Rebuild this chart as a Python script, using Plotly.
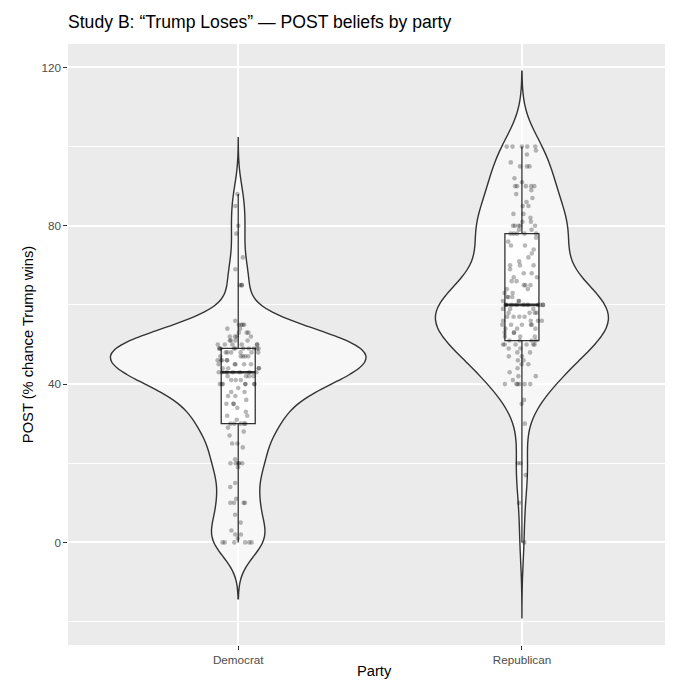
import numpy as np
import plotly.graph_objects as go

# ---------------- data ----------------
categories = ["Democrat", "Republican"]

dem_post = [
    0, 0, 0, 0, 0, 0, 1, 2, 2, 3, 5, 7, 10, 10, 10, 10, 11, 14, 15, 19,
    20, 20, 20, 20, 20, 21, 24, 25, 25, 27, 28, 29, 30, 30, 30,
    30, 30, 31, 32, 32, 33, 34, 35, 35, 35, 36, 37, 37, 38, 38, 39,
    40, 40, 40, 40, 40, 40, 40, 41, 41, 41, 42, 42, 42, 42, 43, 43, 43, 43, 43,
    43, 43, 44, 44, 44, 44, 45, 45, 45, 45, 45, 46, 46, 46, 46, 46,
    47, 47, 47, 47, 47, 48, 48, 48, 48, 48, 48, 49, 49, 49, 49, 49, 49, 49, 49,
    49, 49, 50, 50, 50, 50, 50, 50, 51, 51, 51, 51, 52, 52, 52, 52,
    53, 53, 53, 54, 54, 55, 55, 55, 55, 56, 65, 65, 65, 69, 72, 78, 80, 85, 88,
]

rep_post = [
    0, 10, 17, 20, 20, 30, 35, 36, 40, 40, 40, 40, 40, 40, 41, 42, 42, 43, 44,
    45, 45, 46, 46, 47, 47, 48, 48, 49, 49, 50, 50, 50, 50, 50, 50, 51, 51, 51,
    51, 52, 52, 52, 53, 53, 53, 54, 54, 54, 55, 55, 55, 55, 55, 56, 56, 56, 56,
    57, 57, 57, 57, 58, 58, 58, 58, 59, 59, 59, 60, 60, 60, 60, 60, 60, 60,
    60, 60, 60, 61, 61, 61, 62, 62, 62, 63, 63, 64, 64, 65, 65, 65, 66, 66,
    67, 67, 68, 68, 69, 70, 70, 70, 71, 72, 73, 74, 75, 75, 76, 77, 78, 78, 78,
    78, 78, 79, 79, 80, 80, 80, 80, 80, 81, 81, 82, 83, 83, 85, 85, 86, 87, 88,
    89, 90, 90, 90, 90, 90, 91, 92, 95, 95, 95, 96, 98, 99, 100, 100, 100, 100, 100,
]

y_ticks = [0, 40, 80, 120]
y_minor = [-20, 20, 60, 100]

title_text = "Study B: \u201cTrump Loses\u201d \u2014 POST beliefs by party"
x_title = "Party"
y_title = "POST (% chance Trump wins)"

series = {"Democrat": dem_post, "Republican": rep_post}

# ---------------- helpers (ggplot-like violin statistics) ----------------
def bw_nrd0(v):
    v = np.asarray(v, float)
    sd = v.std(ddof=1)
    q75, q25 = np.percentile(v, [75, 25])
    lo = min(sd, (q75 - q25) / 1.34)
    return 0.9 * lo * len(v) ** -0.2


def kde_peak(v, bw, span):
    v = np.asarray(v, float)
    grid = np.linspace(span[0], span[1], 1024)
    d = np.exp(-0.5 * ((grid[:, None] - v[None, :]) / bw) ** 2).sum(1)
    return (d / (len(v) * bw * np.sqrt(2 * np.pi))).max()


stats = {}
for cat in categories:
    v = series[cat]
    bw = bw_nrd0(v)
    span = [min(v) - 3 * bw, max(v) + 3 * bw]
    stats[cat] = dict(bw=bw, span=span, peak=kde_peak(v, bw, span))

max_peak = max(s["peak"] for s in stats.values())
lo = min(s["span"][0] for s in stats.values())
hi = max(s["span"][1] for s in stats.values())
pad = 0.05 * (hi - lo)
y_range = [lo - pad, hi + pad]

FONT = "Liberation Sans, Arial, Helvetica, sans-serif"
LINE = "#333333"

fig = go.Figure()

# violins (scale = "area": width proportional to peak density)
for cat in categories:
    s = stats[cat]
    fig.add_trace(go.Violin(
        x=[cat] * len(series[cat]), y=series[cat],
        bandwidth=s["bw"], spanmode="manual", span=s["span"],
        scalemode="width", width=0.9 * s["peak"] / max_peak,
        points=False, box_visible=False, meanline_visible=False,
        fillcolor="rgba(255,255,255,0.6)",
        line=dict(color=LINE, width=1.4),
        hoverinfo="skip", name=cat,
    ))

# boxplots
for cat in categories:
    fig.add_trace(go.Box(
        x=[cat] * len(series[cat]), y=series[cat],
        width=0.12, boxpoints=False, whiskerwidth=0,
        fillcolor="rgba(255,255,255,0.8)",
        line=dict(color=LINE, width=1.3),
        hoverinfo="skip", name=cat,
    ))

# fattened median lines
for cat in categories:
    fig.add_trace(go.Box(
        x=[cat], y=[float(np.median(series[cat]))],
        width=0.12, boxpoints=False, whiskerwidth=0,
        fillcolor="rgba(0,0,0,0)",
        line=dict(color=LINE, width=2.6),
        hoverinfo="skip", name=cat,
    ))

# jittered points
for cat in categories:
    fig.add_trace(go.Box(
        x=[cat] * len(series[cat]), y=series[cat],
        width=0.15, boxpoints="all", jitter=1, pointpos=0,
        fillcolor="rgba(0,0,0,0)",
        line=dict(color="rgba(0,0,0,0)", width=0),
        marker=dict(color="rgba(0,0,0,0.28)", size=4.6, line=dict(width=0)),
        hoverinfo="y", name=cat,
    ))

W, H = 673, 681
ML, MT, MB = 60, 36, 44
unit_px = 283.7
x_lo = -0.6
x_hi = x_lo + (W - ML) / unit_px

fig.update_layout(
    width=W, height=H,
    margin=dict(l=ML, r=0, t=MT, b=MB, pad=0),
    paper_bgcolor="white", plot_bgcolor="#EBEBEB",
    font=dict(family=FONT, color="black"),
    violinmode="overlay", boxmode="overlay", showlegend=False,
    title=dict(text=title_text, x=0, xref="paper", xanchor="left",
               y=1 - 8 / H, yref="container", yanchor="top",
               font=dict(size=17.6, color="black", family=FONT)),
    annotations=[dict(text=x_title, xref="paper", yref="paper", x=0.5,
                      y=-(MB - 8) / (H - MT - MB), xanchor="center", yanchor="bottom",
                      showarrow=False, font=dict(size=14.7, color="black", family=FONT))],
)

fig.update_xaxes(
    type="category", categoryorder="array", categoryarray=categories,
    range=[x_lo, x_hi], showgrid=True, gridcolor="white", gridwidth=1.9,
    zeroline=False, showline=False,
    ticks="outside", ticklen=3.7, tickwidth=1.1, tickcolor=LINE,
    ticklabelstandoff=0,
    tickfont=dict(size=11.7, color="#4D4D4D", family=FONT),
)

fig.update_yaxes(
    range=y_range, tickmode="array", tickvals=y_ticks,
    showgrid=True, gridcolor="white", gridwidth=1.9,
    minor=dict(tickmode="array", tickvals=y_minor, showgrid=True,
               gridcolor="white", gridwidth=0.95, ticks=""),
    zeroline=False, showline=False,
    ticks="outside", ticklen=3.7, tickwidth=1.1, tickcolor=LINE,
    tickfont=dict(size=11.7, color="#4D4D4D", family=FONT),
    title=dict(text=y_title, font=dict(size=14.7, color="black", family=FONT), standoff=4),
)

fig.write_html("out.html")
